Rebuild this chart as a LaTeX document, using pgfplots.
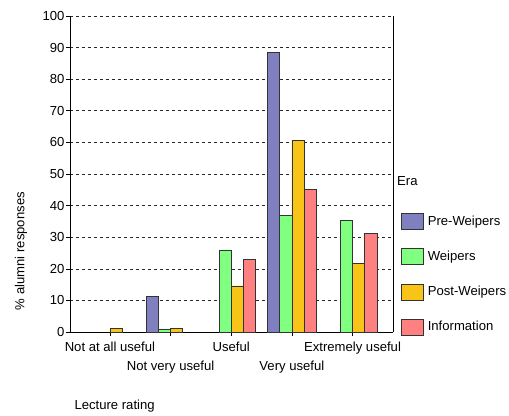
\documentclass[border=0pt]{standalone}
\usepackage{pgfplots}
\pgfplotsset{compat=1.18}
\usepackage{fontspec}
\setmainfont{Liberation Sans}
\definecolor{cpre}{RGB}{128,128,192}
\definecolor{cwei}{RGB}{128,255,128}
\definecolor{cpost}{RGB}{248,196,24}
\definecolor{cinf}{RGB}{255,128,128}
\pgfplotsset{
    boxbar/.style={ybar, bar width=0.2, draw=black!80, line width=0.6pt,
        legend image code/.code={\draw[##1] (0bp,-8bp) rectangle (22bp,8bp);}},
}
\begin{document}
\fontsize{13.1bp}{15.5bp}\selectfont
\begin{tikzpicture}
\begin{axis}[
    at={(0,0)}, anchor=south west,
    scale only axis, width=323bp, height=316bp,
    xmin=-0.658, xmax=4.667,
    ymin=0, ymax=100,
    axis x line*=bottom, axis y line*=left,
    axis line style={black, line width=0.8pt},
    ytick={0,10,...,100},
    ymajorgrids=true,
    major grid style={black!85, dash pattern=on 3bp off 3bp, line width=0.6pt},
    tick align=outside, major tick length=4bp,
    tick style={black, line width=0.6pt},
    xtick={0,2,4},
    xticklabels={Not at all useful, Useful, Extremely useful},
    extra x ticks={1,3},
    extra x tick labels={Not very useful, Very useful},
    extra x tick style={xticklabel style={yshift=-19bp}},
    xticklabel style={anchor=north, yshift=-1bp},
    yticklabel style={anchor=east, xshift=3bp},
    /pgf/number format/assume math mode=true,
    ylabel={\% alumni responses},
    ylabel style={at={(rel axis cs:-0.152,0.256)}, anchor=center},
    xlabel={Lecture rating},
    xlabel style={at={(rel axis cs:0,-0.236)}, anchor=west},
    legend style={at={(rel axis cs:1.0248,0.376)}, anchor=north west,
        draw=none, fill=none, inner sep=0pt, row sep=18.5bp, column sep=2bp,
        nodes={inner sep=2bp, anchor=west}},
    legend cell align=left,
    clip=false,
]
\addplot[boxbar, bar shift=-0.3, fill=cpre]
    coordinates {(1,11.2) (3,88.6)};
\addplot[boxbar, bar shift=-0.1, fill=cwei]
    coordinates {(1,1.0) (2,26.0) (3,36.8) (4,35.3)};
\addplot[boxbar, bar shift=0.1, fill=cpost]
    coordinates {(0,1.2) (1,1.2) (2,14.6) (3,60.7) (4,21.8)};
\addplot[boxbar, bar shift=0.3, fill=cinf]
    coordinates {(2,23.0) (3,45.2) (4,31.2)};
\legend{Pre-Weipers, Weipers, Post-Weipers, Information}
\draw[black, line width=0.8pt] (rel axis cs:1,0) -- (rel axis cs:1,1);
\node[anchor=west, inner sep=0pt] at (rel axis cs:1.0124,0.478) {Era};
\end{axis}
\pgfresetboundingbox
\useasboundingbox (-70bp,-84bp) rectangle (439bp,332bp);
\end{tikzpicture}
\end{document}
